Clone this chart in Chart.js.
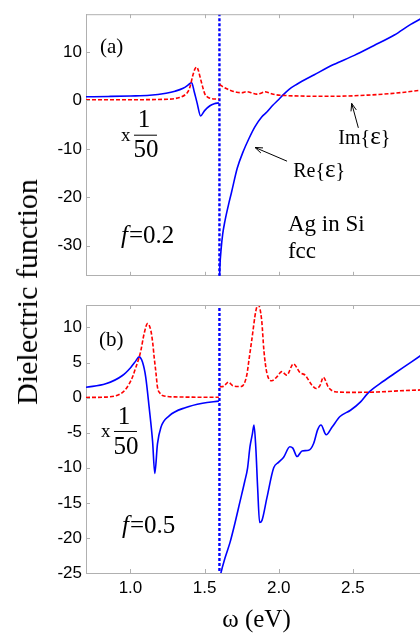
<!DOCTYPE html>
<html><head><meta charset="utf-8">
<script src="https://cdn.jsdelivr.net/npm/chart.js@4.4.0/dist/chart.umd.min.js"></script>
<style>
html,body{margin:0;padding:0;background:#fff;width:420px;height:633px;overflow:hidden;position:relative;}
canvas{position:absolute;left:0;}
#c1{top:0}
#c2{top:290px}
#ylab{position:absolute;left:27px;top:292px;transform:translate(-50%,-50%) rotate(-90deg);font:30px 'Liberation Serif',serif;white-space:nowrap;color:#000;}
</style></head><body>
<canvas id="c1" width="427" height="290"></canvas>
<canvas id="c2" width="427" height="343"></canvas>
<div id="ylab">Dielectric function</div>
<script>
// ---- tick values ----
const xTicks = [1, 1.5, 2, 2.5];
const topYTicks = [-30, -20, -10, 0, 10];
const botYTicks = [-25, -20, -15, -10, -5, 0, 5, 10];

// ---- pole line at 1.6 eV ----
const poleX = [1.6, 1.6];
const topPoleY = [18, -37];
const botPoleY = [13.5, -26];

// ---- panel (a) f=0.2 ----
const topImLX = [0.70,1.00,1.25,1.33,1.37,1.39,1.405,1.419,1.435,1.446,1.458,1.468,1.485,1.502,1.52,1.536,1.596];
const topImLY = [0.15,0.15,0.25,0.6,1.2,1.9,3.2,5.0,6.5,6.9,6.2,5.0,3.0,1.3,0.7,0.45,0.25];
const topImRX = [1.601,1.62,1.649,1.68,1.716,1.75,1.784,1.82,1.851,1.88,1.907,1.94,1.975,2.054,2.15,2.3,2.45,2.6,2.75,2.85,2.96,3.0];
const topImRY = [3.3,2.9,2.4,2.0,1.7,1.6,1.8,1.55,1.3,1.5,1.8,1.5,1.2,1.0,0.9,0.85,0.9,1.1,1.4,1.7,2.1,2.2];
const topReLX = [0.70,0.85,1.00,1.13,1.24,1.30,1.355,1.39,1.412,1.43,1.45,1.473,1.50,1.536,1.565,1.596];
const topReLY = [0.75,0.82,0.92,1.07,1.5,1.9,2.5,3.2,3.7,1.8,-0.6,-3.2,-2.1,-1.1,-0.7,-0.5];
const topReRX = [1.6005,1.603,1.612,1.622,1.637,1.666,1.682,1.72,1.761,1.80,1.84,1.885,1.92,1.96,2.00,2.031,2.07,2.12,2.24,2.37,2.51,2.64,2.78,2.89,2.96,3.0];
const topReRY = [-37,-34.4,-30.5,-27.6,-24.9,-20.9,-18.9,-14.0,-10.5,-7.8,-5.4,-3.4,-2.4,-1.0,0.2,1.2,2.3,3.3,5.3,7.4,9.3,11.3,13.5,15.7,16.9,17.6];

// ---- panel (b) f=0.5 ----
const botImLX = [0.70,0.85,0.923,0.96,0.99,1.015,1.036,1.055,1.07,1.092,1.115,1.137,1.15,1.16,1.172,1.182,1.20,1.216,1.30,1.596];
const botImLY = [0.02,0.1,0.43,1.0,1.9,3.0,4.3,5.5,6.7,9.1,10.55,9.6,7.8,5.7,3.5,1.5,0.6,0.3,0.1,0.05];
const botImRX = [1.602,1.627,1.66,1.69,1.727,1.75,1.784,1.80,1.818,1.847,1.862,1.885,1.90,1.919,1.953,1.985,2.02,2.054,2.099,2.144,2.178,2.223,2.252,2.278,2.301,2.335,2.38,2.48,2.665,2.845,2.958,3.0];
const botImRY = [1.55,1.6,2.2,1.7,1.58,1.6,3.15,5.5,8.2,12.5,13.2,11.0,6.7,3.6,2.4,2.9,3.7,3.2,4.8,3.55,3.2,1.8,1.3,1.7,2.9,1.47,0.84,0.75,0.8,1.0,1.1,1.2];
const botReLX = [0.70,0.833,0.946,1.002,1.035,1.058,1.081,1.103,1.126,1.149,1.164,1.182,1.205,1.261,1.374,1.486,1.596];
const botReLY = [1.48,1.96,3.15,4.3,5.2,5.8,5.06,2.9,-1.4,-6.2,-10.8,-6.6,-4.25,-2.6,-1.4,-0.8,-0.5];
const botReRX = [1.6005,1.61,1.637,1.672,1.70,1.739,1.77,1.79,1.806,1.822,1.833,1.845,1.858,1.871,1.887,1.92,1.966,2.00,2.033,2.075,2.095,2.124,2.157,2.202,2.236,2.262,2.285,2.32,2.36,2.413,2.484,2.552,2.60,2.687,2.778,2.868,2.958,3.0];
const botReRY = [-26,-25.0,-22.9,-20.6,-18.3,-14.8,-12.0,-10.0,-7.0,-5.2,-3.9,-7.0,-13.0,-17.8,-17.5,-14.3,-10.0,-9.2,-8.5,-7.0,-7.2,-8.4,-7.6,-7.5,-6.5,-4.6,-3.9,-5.3,-4.2,-2.7,-1.8,-0.6,0.6,2.05,3.4,4.7,6.0,6.6];

const zip = (xs, ys) => xs.map((x, i) => ({x, y: ys[i]}));
const BLUE = '#0000ff', RED = '#ff0000', AXIS = '#b0b0b0';
const SERIF = "'Liberation Serif','Times New Roman',serif";
const SANS = "'Liberation Sans',Arial,sans-serif";

function sets(imL, imR, reL, reR, pole) {
  const im = d => ({data: d, borderColor: RED, borderWidth: 1.6, borderDash: [4, 2], pointRadius: 0, cubicInterpolationMode: 'monotone', clip: 0});
  const re = d => ({data: d, borderColor: BLUE, borderWidth: 1.6, pointRadius: 0, cubicInterpolationMode: 'monotone', clip: 0});
  return [im(imL), im(imR), re(reL), re(reR),
    {data: pole, borderColor: BLUE, borderWidth: 2.4, borderDash: [3, 2], pointRadius: 0, clip: 0}];
}

function T(ctx, s, px, py, font, align, base) {
  ctx.font = font; ctx.textAlign = align || 'left'; ctx.textBaseline = base || 'middle';
  ctx.fillStyle = '#000'; ctx.fillText(s, px, py);
  return ctx.measureText(s).width;
}
function label(ctx, pre, px, py) {
  let w = T(ctx, pre + '{', px, py, '20px ' + SERIF, 'left', 'alphabetic');
  w += T(ctx, 'ε', px + w, py, '25px ' + SERIF, 'left', 'alphabetic');
  T(ctx, '}', px + w, py, '20px ' + SERIF, 'left', 'alphabetic');
}
function frac(ctx, px, py) {
  T(ctx, 'x', px, py, '19px ' + SERIF);
  T(ctx, '1', px + 23, py - 15, '25px ' + SERIF, 'center');
  T(ctx, '50', px + 25, py + 15, '25px ' + SERIF, 'center');
  ctx.beginPath(); ctx.strokeStyle = '#000'; ctx.lineWidth = 1;
  ctx.moveTo(px + 13, py - 0.5); ctx.lineTo(px + 36, py - 0.5); ctx.stroke();
}
function fEq(ctx, px, py, val) {
  ctx.font = 'italic 25px ' + SERIF;
  const w = ctx.measureText('f').width;
  T(ctx, 'f', px, py, 'italic 25px ' + SERIF);
  T(ctx, '=' + val, px + w + 1, py, '25px ' + SERIF);
}
function arrow(ctx, x0, y0, x1, y1) {
  ctx.beginPath(); ctx.strokeStyle = '#000'; ctx.lineWidth = 1;
  ctx.moveTo(x0, y0); ctx.lineTo(x1, y1);
  const a = Math.atan2(y1 - y0, x1 - x0), L = 8;
  ctx.moveTo(x1, y1); ctx.lineTo(x1 - L * Math.cos(a - 0.35), y1 - L * Math.sin(a - 0.35));
  ctx.moveTo(x1, y1); ctx.lineTo(x1 - L * Math.cos(a + 0.35), y1 - L * Math.sin(a + 0.35));
  ctx.stroke();
}

const frame = {
  id: 'frame',
  afterDatasetsDraw(chart, args, opts) {
    const {ctx, chartArea: a, scales: {x, y}} = chart;
    ctx.save();
    ctx.strokeStyle = AXIS; ctx.lineWidth = 1; ctx.setLineDash([]);
    ctx.beginPath();
    ctx.moveTo(a.left, a.top + 0.5); ctx.lineTo(a.right, a.top + 0.5);
    xTicks.forEach(v => {
      const p = Math.round(x.getPixelForValue(v)) + 0.5;
      ctx.moveTo(p, a.top); ctx.lineTo(p, a.top + 4);
      ctx.moveTo(p, a.bottom); ctx.lineTo(p, a.bottom - 4);
    });
    opts.yTicks.forEach(v => {
      const p = Math.round(y.getPixelForValue(v)) + 0.5;
      ctx.moveTo(a.left, p); ctx.lineTo(a.left + 4, p);
    });
    ctx.stroke();
    const P = (vx, vy) => [x.getPixelForValue(vx), y.getPixelForValue(vy)];
    opts.notes(ctx, P);
    ctx.restore();
  }
};

function makeChart(id, ds, ymin, ymax, yTicks, padTop, xHeight, showX, notes) {
  return new Chart(document.getElementById(id), {
    type: 'line',
    data: {datasets: ds},
    options: {
      responsive: false, animation: false, devicePixelRatio: 1,
      layout: {padding: {top: padTop, left: 0, right: 0, bottom: 0}},
      plugins: {legend: {display: false}, tooltip: {enabled: false}, frame: {yTicks, notes}},
      scales: {
        x: {
          type: 'linear', min: 0.7, max: 3.0,
          grid: {display: false, drawTicks: false},
          border: {display: true, color: AXIS, width: 1},
          afterBuildTicks: s => { s.ticks = xTicks.map(v => ({value: v})); },
          afterFit: s => { s.height = xHeight; },
          ticks: {display: showX, color: '#000', padding: 5, font: {family: SANS, size: 17}, maxRotation: 0, autoSkip: false},
          title: {display: showX, text: 'ω (eV)', color: '#000', font: {family: SERIF, size: 25}, padding: {top: 0, bottom: -2}}
        },
        y: {
          type: 'linear', min: ymin, max: ymax,
          grid: {display: false, drawTicks: false},
          border: {display: true, color: AXIS, width: 1},
          afterBuildTicks: s => { s.ticks = yTicks.map(v => ({value: v})); },
          afterFit: s => { s.width = 86; },
          ticks: {color: '#000', padding: 4, font: {family: SANS, size: 17}, autoSkip: false}
        }
      }
    },
    plugins: [frame]
  });
}

makeChart('c1',
  sets(zip(topImLX, topImLY), zip(topImRX, topImRY), zip(topReLX, topReLY), zip(topReRX, topReRY), zip(poleX, topPoleY)),
  -36.2, 17.8, topYTicks, 9, 14, false,
  (ctx, P) => {
    let p = P(0.794, 10.9); T(ctx, '(a)', p[0], p[1], '21px ' + SERIF);
    p = P(0.936, -7.28); frac(ctx, p[0], p[1]);
    p = P(0.936, -28.1); fEq(ctx, p[0], p[1], '0.2');
    p = P(2.062, -27.0); T(ctx, 'Ag in Si', p[0], p[1], '23px ' + SERIF, 'left', 'alphabetic');
    T(ctx, 'fcc', p[0], p[1] + 26.5, '23px ' + SERIF, 'left', 'alphabetic');
    p = P(2.098, -15.78); label(ctx, 'Re', p[0], p[1]);
    p = P(2.402, -9.04); label(ctx, 'Im', p[0], p[1]);
    let a = P(2.056, -12.54), b = P(1.840, -9.71); arrow(ctx, a[0], a[1], b[0], b[1]);
    a = P(2.537, -5.66); b = P(2.492, -0.61); arrow(ctx, a[0], a[1], b[0], b[1]);
  });

makeChart('c2',
  sets(zip(botImLX, botImLY), zip(botImRX, botImRY), zip(botReLX, botReLY), zip(botReRX, botReRY), zip(poleX, botPoleY)),
  -25, 13.2, botYTicks, 15, 60, true,
  (ctx, P) => {
    let p = P(0.788, 8.2); T(ctx, '(b)', p[0], p[1], '21px ' + SERIF);
    p = P(0.801, -4.9); frac(ctx, p[0], p[1]);
    p = P(0.943, -18.3); fEq(ctx, p[0], p[1], '0.5');
  });
</script>
</body></html>
